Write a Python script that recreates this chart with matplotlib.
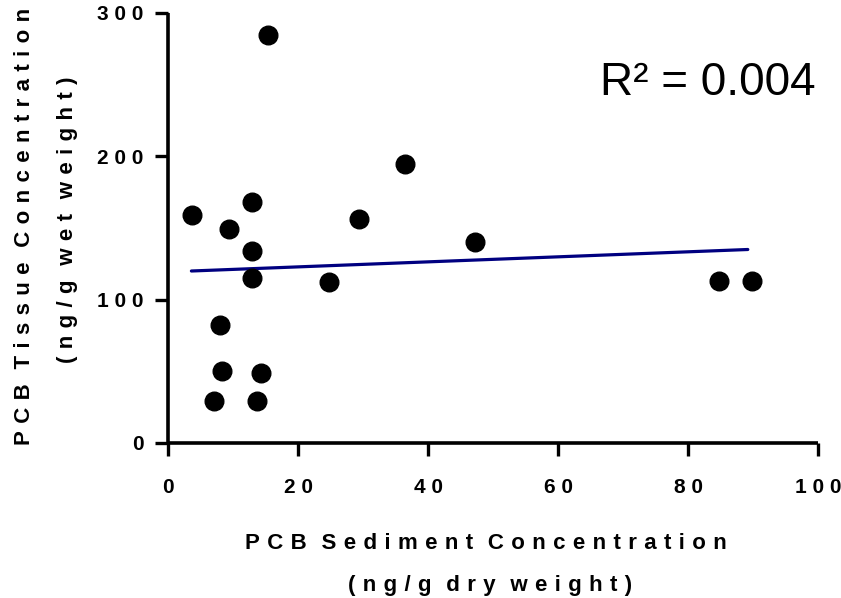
import matplotlib
matplotlib.use("Agg")
import matplotlib.pyplot as plt

# -------------------------------
# data
# -------------------------------
sediment = [3.7, 12.9, 9.4, 12.9, 12.9, 8.0, 8.3, 14.3, 7.1, 13.7,
            15.4, 24.8, 29.4, 36.5, 47.2, 84.8, 89.8]
tissue = [159, 168, 149, 134, 115, 82, 50, 49, 29, 29,
          285, 112, 156, 195, 140, 113, 113]

# linear fit line (ends as drawn)
fit_x = [3.6, 89.2]
fit_y = [120, 135]
r_squared = "0.004"

x_ticks = [0, 20, 40, 60, 80, 100]
y_ticks = [0, 100, 200, 300]

x_title = ["PCB Sediment Concentration", "(ng/g dry weight)"]
y_title = ["PCB Tissue Concentration", "(ng/g wet weight)"]

plt.rcParams["font.family"] = ["Liberation Sans", "DejaVu Sans"]

SEP = "\u2004"   # 1/3 em space, gives the wide letter spacing
TSEP = " "       # tick digits


def spaced(s, sep=SEP):
    return sep.join("" if c == " " else c for c in s)


W, H = 841, 598
fig = plt.figure(figsize=(W / 100, H / 100), dpi=100)
ax = fig.add_axes([168 / W, 1 - 443 / H, 650 / W, 430 / H])

ax.scatter(sediment, tissue, s=180, color="black", zorder=3, clip_on=False)
ax.plot(fit_x, fit_y, color="#000080", lw=2.3, solid_capstyle="round", zorder=2)

ax.set_xlim(0, 100)
ax.set_ylim(0, 300)
ax.set_xticks(x_ticks)
ax.set_yticks(y_ticks)
ax.set_xticklabels([spaced(str(t), TSEP) for t in x_ticks])
ax.set_yticklabels([spaced(str(t), TSEP) for t in y_ticks])

for side in ["top", "right"]:
    ax.spines[side].set_visible(False)
for side in ["left", "bottom"]:
    ax.spines[side].set_linewidth(2.6)
    ax.spines[side].set_capstyle("butt")

ax.tick_params(direction="out", length=9.5, width=2.4, labelsize=15)
ax.tick_params(axis="x", pad=16)
ax.tick_params(axis="y", pad=8)
for lab in ax.get_xticklabels() + ax.get_yticklabels():
    lab.set_fontweight("bold")

# R^2 annotation
fig.text(600 / W, 1 - 95 / H, "R\u00b2 = " + r_squared, fontsize=33,
         ha="left", va="baseline")

# axis titles
fig.text(245 / W, 1 - 549 / H, spaced(x_title[0]), fontsize=16,
         fontweight="bold", ha="left", va="baseline")
fig.text(348 / W, 1 - 591 / H, spaced(x_title[1]), fontsize=16,
         fontweight="bold", ha="left", va="baseline")

fig.text(30 / W, 1 - 445 / H, spaced(y_title[0]), fontsize=16,
         fontweight="bold", rotation=90, rotation_mode="anchor",
         ha="left", va="baseline")
fig.text(73 / W, 1 - 363 / H, spaced(y_title[1]), fontsize=16,
         fontweight="bold", rotation=90, rotation_mode="anchor",
         ha="left", va="baseline")

fig.savefig("out.png", dpi=100)
